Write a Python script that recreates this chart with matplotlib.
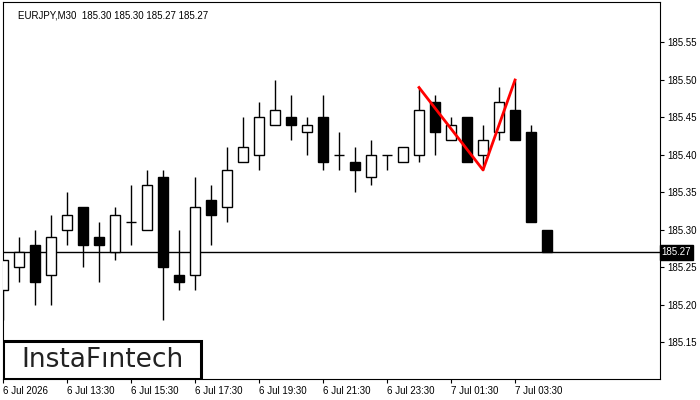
import matplotlib.pyplot as plt
from matplotlib.patches import Rectangle

plt.rcParams['font.family'] = ['Liberation Sans', 'DejaVu Sans']

# EURJPY M30 candles, 6 Jul 11:30 .. 7 Jul 04:30
opens = [185.22, 185.25, 185.28, 185.24, 185.30, 185.33, 185.29, 185.27, 185.31, 185.30,
         185.37, 185.24, 185.24, 185.34, 185.33, 185.39, 185.40, 185.44, 185.45, 185.43,
         185.45, 185.40, 185.39, 185.37, 185.40, 185.39, 185.40, 185.47, 185.42, 185.45,
         185.40, 185.43, 185.46, 185.43, 185.30]
highs = [185.26, 185.29, 185.30, 185.32, 185.35, 185.33, 185.31, 185.33, 185.36, 185.38,
         185.38, 185.30, 185.37, 185.36, 185.41, 185.45, 185.47, 185.50, 185.48, 185.45,
         185.48, 185.43, 185.41, 185.42, 185.40, 185.41, 185.49, 185.48, 185.45, 185.45,
         185.44, 185.49, 185.50, 185.44, 185.30]
lows = [185.18, 185.23, 185.20, 185.20, 185.28, 185.25, 185.23, 185.26, 185.28, 185.30,
        185.18, 185.22, 185.22, 185.28, 185.31, 185.39, 185.38, 185.44, 185.42, 185.40,
        185.38, 185.38, 185.35, 185.36, 185.38, 185.39, 185.39, 185.40, 185.42, 185.39,
        185.38, 185.42, 185.42, 185.31, 185.27]
closes = [185.26, 185.27, 185.23, 185.29, 185.32, 185.28, 185.28, 185.32, 185.31, 185.36,
          185.25, 185.23, 185.33, 185.32, 185.38, 185.41, 185.45, 185.46, 185.44, 185.44,
          185.39, 185.40, 185.38, 185.40, 185.40, 185.41, 185.46, 185.43, 185.44, 185.39,
          185.42, 185.47, 185.42, 185.31, 185.27]

x_tick_pos = [0, 4, 8, 12, 16, 20, 24, 28, 32]
x_tick_labels = ['6 Jul 2026', '6 Jul 13:30', '6 Jul 15:30', '6 Jul 17:30', '6 Jul 19:30',
                 '6 Jul 21:30', '6 Jul 23:30', '7 Jul 01:30', '7 Jul 03:30']
y_ticks = [185.15, 185.20, 185.25, 185.30, 185.35, 185.40, 185.45, 185.50, 185.55]

# double top pattern points (bar index, price)
pattern_x = [26, 30, 32]
pattern_y = [185.49, 185.38, 185.50]

last_price = 185.27

fig = plt.figure(figsize=(7, 4), dpi=100)
ax = fig.add_axes([3/700, 21/400, 657/700, 377/400])

w = 0.6
for i in range(len(opens)):
    o, h, l, c = opens[i], highs[i], lows[i], closes[i]
    ax.vlines(i, l, h, color='black', lw=1, zorder=2)
    if abs(c - o) < 1e-9:
        ax.hlines(o, i - w/2, i + w/2, color='black', lw=1, zorder=3)
    else:
        face = 'white' if c > o else 'black'
        ax.add_patch(Rectangle((i - w/2, min(o, c)), w, abs(c - o),
                               facecolor=face, edgecolor='black', lw=1, zorder=3))

ax.plot(pattern_x, pattern_y, color='red', lw=2, zorder=4)
ax.axhline(last_price, color='black', lw=1, zorder=1)

ax.set_xlim(0, 41.06)
ax.set_ylim(185.1013, 185.604)

ax.yaxis.tick_right()
ax.set_yticks(y_ticks)
ax.set_yticklabels([f'{v:.2f}' for v in y_ticks], fontsize=7)
ax.set_xticks(x_tick_pos)
ax.set_xticklabels(x_tick_labels, fontsize=7, ha='left')
ax.tick_params(axis='both', direction='out', length=3, width=0.8, pad=2)
for s in ax.spines.values():
    s.set_linewidth(0.8)

ax.text(1.0025, last_price, f'{last_price:.2f}', transform=ax.get_yaxis_transform(),
        fontsize=7, color='white', va='center', ha='left',
        bbox=dict(facecolor='black', edgecolor='black', pad=1.5), clip_on=False)

ax.text(15/657, 0.978, 'EURJPY,M30  185.30 185.30 185.27 185.27', transform=ax.transAxes,
        fontsize=7, va='top', ha='left')

# logo box
ax.add_patch(Rectangle((0, 0), 198/657, 38/377, transform=ax.transAxes,
                       facecolor='white', edgecolor='black', lw=2.2, zorder=5))
ax.text(99/657, 19/377, 'InstaF\u0131ntech', transform=ax.transAxes, fontsize=19,
        family='DejaVu Sans', color='#222222', ha='center', va='center', zorder=6)

fig.savefig('out.png', dpi=100)
